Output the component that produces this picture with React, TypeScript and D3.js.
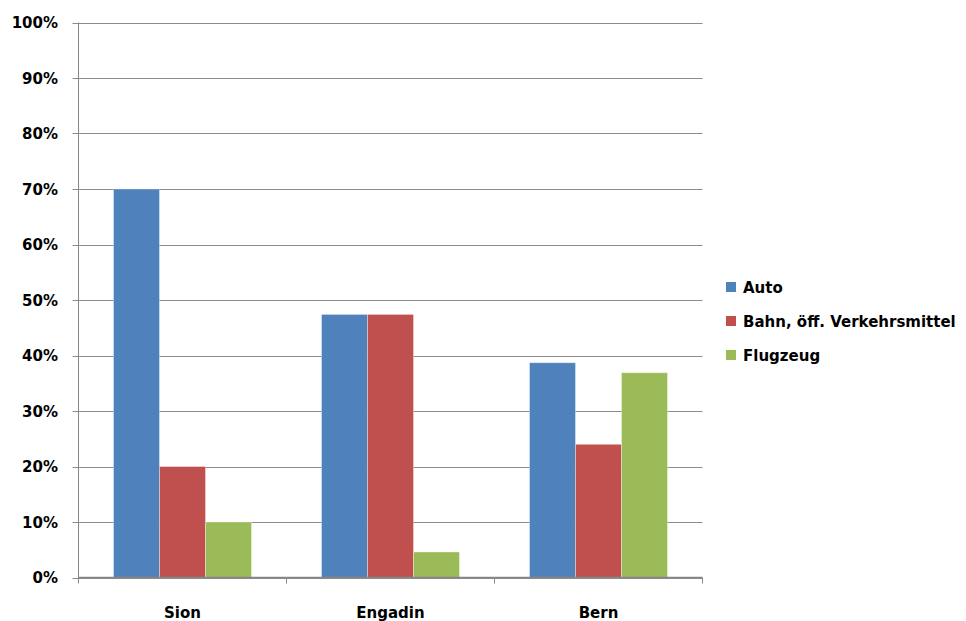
import React from "react";
import * as d3 from "d3";

const categories = ["Sion", "Engadin", "Bern"];
const seriesNames = ["Auto", "Bahn, öff. Verkehrsmittel", "Flugzeug"];
const auto = [0.70, 0.474, 0.387];
const bahn = [0.20, 0.474, 0.24];
const flug = [0.10, 0.046, 0.369];
const yTicks = [0, 0.1, 0.2, 0.3, 0.4, 0.5, 0.6, 0.7, 0.8, 0.9, 1.0];
const colors = ["#4F81BD", "#C0504D", "#9BBB59"];

const W = 966, H = 621;
const left = 78.5, right = 702.5, top = 22.5, bottom = 577.5;
const font = "'DejaVu Sans', sans-serif";

export default function App() {
  const series = [auto, bahn, flug];
  const x = d3.scaleBand<string>().domain(categories).range([left, right]).paddingInner(0).paddingOuter(0);
  const inner = d3.scaleBand<number>().domain([0, 1, 2]).range([0, 138]);
  const y = d3.scaleLinear().domain([0, 1]).range([bottom, top]);
  const fmt = d3.format(".0%");
  const bw = x.bandwidth();
  return (
    <svg width={W} height={H} style={{ position: "absolute", left: 0, top: 0, background: "#fff" }}>
      {yTicks.map((t) => (
        <g key={t}>
          <line x1={left - 6} x2={right} y1={Math.round(y(t)) + 0.5} y2={Math.round(y(t)) + 0.5} stroke="#8c8c8c" strokeWidth={1} />
          <text x={58} y={y(t) + 1} textAnchor="end" dominantBaseline="middle" fontFamily={font} fontWeight="bold" fontSize={15} fill="#000">{fmt(t)}</text>
        </g>
      ))}
      {categories.map((c, ci) =>
        series.map((s, si) => {
          const x0 = (x(c) as number) + (bw - 138) / 2 + (inner(si) as number);
          return (
            <rect key={c + si} x={x0} y={y(s[ci])} width={inner.bandwidth()} height={bottom - y(s[ci])} fill={colors[si]} stroke="rgba(255,255,255,0.35)" strokeWidth={1} />
          );
        })
      )}
      <line x1={left} x2={left} y1={top} y2={bottom + 6} stroke="#868686" strokeWidth={1} />
      <line x1={left} x2={right} y1={bottom} y2={bottom} stroke="#868686" strokeWidth={1.5} />
      {categories.map((c) => (
        <line key={"t" + c} x1={(x(c) as number) + bw} x2={(x(c) as number) + bw} y1={bottom} y2={bottom + 6} stroke="#868686" strokeWidth={1} />
      ))}
      {categories.map((c) => (
        <text key={"l" + c} x={(x(c) as number) + bw / 2} y={618} textAnchor="middle" fontFamily={font} fontWeight="bold" fontSize={15} fill="#000">{c}</text>
      ))}
      {seriesNames.map((n, i) => (
        <g key={n} transform={`translate(726, ${287 + i * 34})`}>
          <rect x={0} y={-5} width={10} height={10} fill={colors[i]} />
          <text x={17} y={1} dominantBaseline="middle" fontFamily={font} fontWeight="bold" fontSize={15} fill="#000">{n}</text>
        </g>
      ))}
    </svg>
  );
}
